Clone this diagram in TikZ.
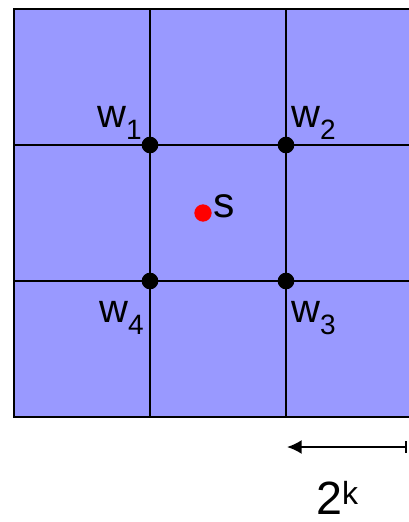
\documentclass[tikz,border=0pt]{standalone}
\usepackage{fontspec}
\setmainfont{Liberation Sans}
\usetikzlibrary{arrows.meta,positioning}
\definecolor{cellblue}{HTML}{9999FF}
\definecolor{ptred}{HTML}{FF0000}
\newcommand{\wsub}[1]{w\raisebox{-9.5pt}{\fontsize{21}{22}\selectfont #1}}
\tikzset{
  gridline/.style={draw=black,line width=1.5pt},
  gridpt/.style={circle,fill=black,inner sep=0pt,minimum size=12.5pt},
  srcpt/.style={circle,fill=ptred,inner sep=0pt,minimum size=13pt},
  wlab/.style={inner sep=0pt,font=\fontsize{30}{34}\selectfont},
  dimarrow/.style={{Latex[length=11pt,width=10.5pt]}-{Bar[width=9pt]},line width=1.5pt},
}
\begin{document}
\begin{tikzpicture}[x=0.75pt,y=-0.75pt]
  \useasboundingbox (0,0) rectangle (408,522);
  % cells of the grid
  \fill[cellblue] (14,9) rectangle (422,417);
  \foreach \x in {150,286} \draw[gridline] (\x,9) -- (\x,417);
  \foreach \y in {145,281} \draw[gridline] (14,\y) -- (422,\y);
  \draw[gridline] (14,9) rectangle (422,417);
  % corner points and sample
  \node[gridpt] (p1) at (150,145) {};
  \node[gridpt] (p2) at (286,145) {};
  \node[gridpt] (p3) at (286,281) {};
  \node[gridpt] (p4) at (150,281) {};
  \node[srcpt] (s) at (203,213) {};
  \node[wlab,anchor=base east] (lw1) at (142,127) {\wsub{1}};
  \node[wlab,anchor=base west] (lw2) at (291,127) {\wsub{2}};
  \node[wlab,anchor=base west] (lw3) at (291,322) {\wsub{3}};
  \node[wlab,anchor=base east] (lw4) at (144,322) {\wsub{4}};
  \node[inner sep=0pt,font=\fontsize{32}{36}\selectfont,anchor=base west] (ls) at (213,217) {s};
  % cell size
  \coordinate (al) at (287,447);
  \coordinate (ar) at (406.5,447);
  \draw[dimarrow] (al) -- (ar);
  \node[inner sep=0pt,anchor=base west,font=\fontsize{35}{40}\selectfont] (twok) at (316,514) {2\raisebox{7.5pt}{\fontsize{24}{26}\selectfont k}};
\end{tikzpicture}
\end{document}
